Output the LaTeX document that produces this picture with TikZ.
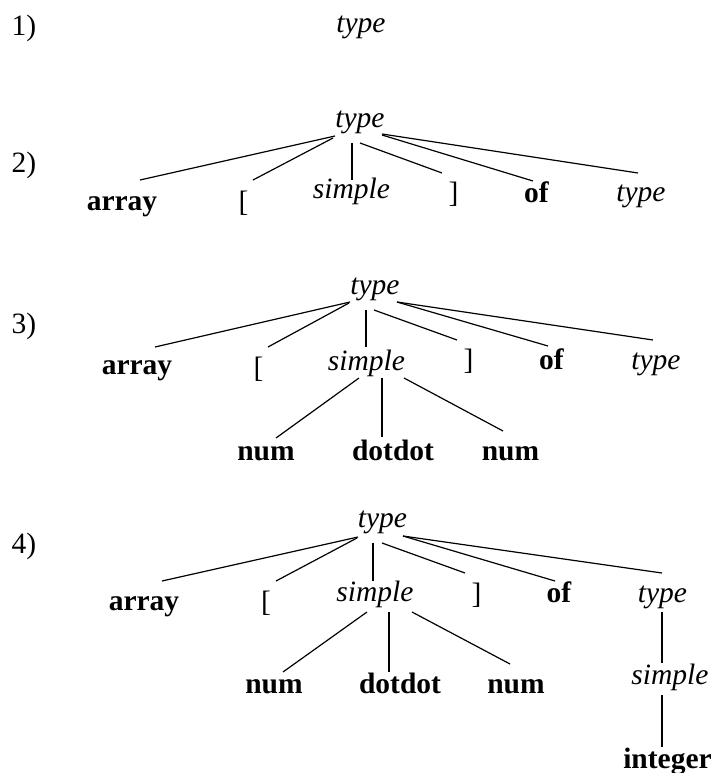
\documentclass[tikz,border=0pt]{standalone}
\usepackage{fontspec}
\setmainfont{Liberation Serif}
\begin{document}
\begin{tikzpicture}[x=1pt,y=-1pt,
  base/.style={anchor=base,inner sep=0pt,font=\fontsize{29.5}{32}\selectfont},
  nterm/.style={base,font=\fontsize{29.5}{32}\selectfont\itshape},
  term/.style={base,font=\fontsize{29.5}{32}\selectfont\bfseries},
  plain/.style={base},
  edge/.style={line width=1.2pt}]
\useasboundingbox (0,0) rectangle (713,773);
% ---------- 1)
\node[plain] (n1) at (24,36) {1)};
\node[nterm] (t1) at (361,33) {type};
% ---------- 2)
\node[plain] (n2) at (24,172) {2)};
\node[nterm] (r2) at (360,128) {type};
\node[term]  (a2) at (122,210) {array};
\node[plain] (lb2) at (243.5,211) {[};
\node[nterm] (s2) at (351.5,198) {simple};
\node[plain] (rb2) at (453.5,202) {]};
\node[term]  (o2) at (536.5,202) {of};
\node[nterm] (ty2) at (641,201) {type};
\draw[edge] ([shift={(-25,8)}]r2.base) -- ([shift={(18,-30)}]a2.base);
\draw[edge] ([shift={(-27,10)}]r2.base) -- ([shift={(9.5,-31)}]lb2.base);
\draw[edge] ([shift={(-8,15)}]r2.base) -- ([shift={(0.5,-18)}]s2.base);
\draw[edge] ([shift={(0,15)}]r2.base) -- ([shift={(-11.5,-29)}]rb2.base);
\draw[edge] ([shift={(22,7)}]r2.base) -- ([shift={(-3.5,-21)}]o2.base);
\draw[edge] ([shift={(22,6)}]r2.base) -- ([shift={(-3,-28)}]ty2.base);
% ---------- 3)
\node[plain] (n3) at (24,333) {3)};
\node[nterm] (r3) at (375,294) {type};
\node[term]  (a3) at (137,374) {array};
\node[plain] (lb3) at (258.5,377) {[};
\node[nterm] (s3) at (366.5,370) {simple};
\node[plain] (rb3) at (468.5,369) {]};
\node[term]  (o3) at (551.5,369) {of};
\node[nterm] (ty3) at (656,369) {type};
\node[term]  (nm3a) at (266,460) {num};
\node[term]  (dd3) at (393,460) {dotdot};
\node[term]  (nm3b) at (510.5,460) {num};
\draw[edge] ([shift={(-25,8)}]r3.base) -- ([shift={(18,-27)}]a3.base);
\draw[edge] ([shift={(-26,9)}]r3.base) -- ([shift={(9.5,-30)}]lb3.base);
\draw[edge] ([shift={(-9,16)}]r3.base) -- ([shift={(-0.5,-23)}]s3.base);
\draw[edge] ([shift={(-1,16)}]r3.base) -- ([shift={(-11.5,-29)}]rb3.base);
\draw[edge] ([shift={(22,8)}]r3.base) -- ([shift={(-3.5,-23)}]o3.base);
\draw[edge] ([shift={(22,8)}]r3.base) -- ([shift={(-3,-29)}]ty3.base);
\draw[edge] ([shift={(-7.5,8)}]s3.base) -- ([shift={(10,-22)}]nm3a.base);
\draw[edge] ([shift={(15.5,8)}]s3.base) -- ([shift={(-11,-23)}]dd3.base);
\draw[edge] ([shift={(37.5,8)}]s3.base) -- ([shift={(-7.5,-29)}]nm3b.base);
% ---------- 4)
\node[plain] (n4) at (24,553) {4)};
\node[nterm] (r4) at (382.5,527) {type};
\node[term]  (a4) at (144,610) {array};
\node[plain] (lb4) at (266,611) {[};
\node[nterm] (s4) at (375,601) {simple};
\node[plain] (rb4) at (476.5,603) {]};
\node[term]  (o4) at (559,602) {of};
\node[nterm] (ty4) at (662.5,602) {type};
\node[term]  (nm4a) at (274,693) {num};
\node[term]  (dd4) at (400,693) {dotdot};
\node[term]  (nm4b) at (516,693) {num};
\node[nterm] (ss4) at (670,684) {simple};
\node[term]  (in4) at (667.5,768) {integer};
\draw[edge] ([shift={(-24.5,10)}]r4.base) -- ([shift={(18,-29)}]a4.base);
\draw[edge] ([shift={(-25.5,11)}]r4.base) -- ([shift={(10,-30)}]lb4.base);
\draw[edge] ([shift={(-9.5,16)}]r4.base) -- ([shift={(-2,-20)}]s4.base);
\draw[edge] ([shift={(-0.5,16)}]r4.base) -- ([shift={(-11.5,-30)}]rb4.base);
\draw[edge] ([shift={(20.5,9)}]r4.base) -- ([shift={(-4,-21)}]o4.base);
\draw[edge] ([shift={(20.5,9)}]r4.base) -- ([shift={(-0.5,-29)}]ty4.base);
\draw[edge] ([shift={(-8,11)}]s4.base) -- ([shift={(9,-21)}]nm4a.base);
\draw[edge] ([shift={(14,11)}]s4.base) -- ([shift={(-11,-21)}]dd4.base);
\draw[edge] ([shift={(37,11)}]s4.base) -- ([shift={(-6,-29)}]nm4b.base);
\draw[edge] ([shift={(-0.5,10)}]ty4.base) -- ([shift={(-8,-21)}]ss4.base);
\draw[edge] ([shift={(-8,11)}]ss4.base) -- ([shift={(-5.5,-21)}]in4.base);
\end{tikzpicture}
\end{document}
